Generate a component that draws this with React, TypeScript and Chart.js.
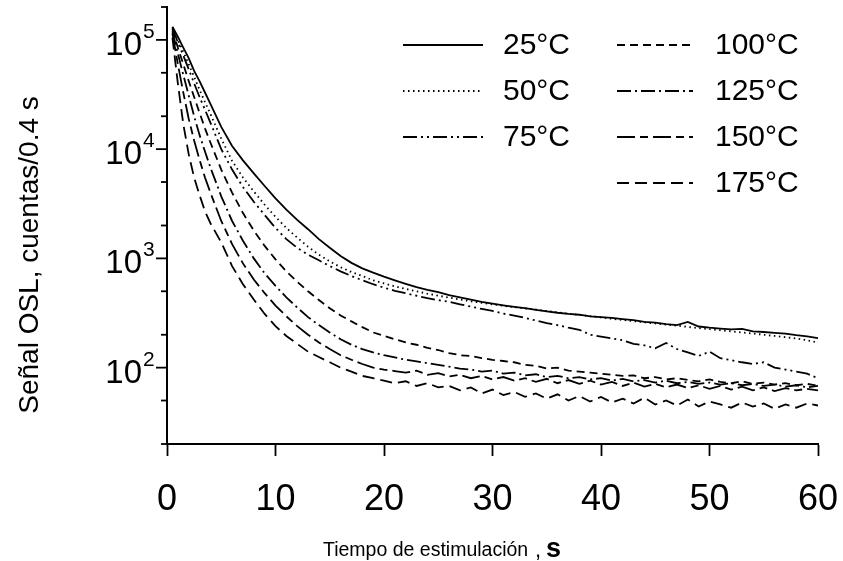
import React, { useEffect, useRef } from 'react';
import { Chart, registerables } from 'chart.js';

Chart.register(...registerables);

// Stimulation time (s)
const TIME = [0.5, 1, 1.5, 2, 2.5, 3, 3.5, 4, 5, 6, 7, 8, 9, 10, 11, 12, 13, 14, 15, 16, 17, 18, 19, 20,
  21, 22, 23, 24, 25, 26, 27, 28, 29, 30, 31, 32, 33, 34, 35, 36, 37, 38, 39, 40,
  41, 42, 43, 44, 45, 46, 47, 48, 49, 50, 51, 52, 53, 54, 55, 56, 57, 58, 59, 60];

const C25 = [132000, 107000, 85000, 68000, 52000, 42000, 33000, 26000, 16000, 10700, 7900, 6000, 4600, 3550, 2800, 2250, 1850, 1500, 1250, 1050, 910, 810, 740, 680,
  630, 585, 545, 515, 490, 460, 440, 420, 400, 385, 372, 360, 350, 338, 328, 318, 310, 305, 295, 290,
  285, 278, 272, 262, 258, 250, 245, 262, 238, 232, 228, 224, 226, 215, 212, 208, 205, 198, 193, 186];

const C50 = [130000, 100000, 78000, 60000, 46000, 35000, 27000, 21000, 12500, 7800, 5500, 4100, 3100, 2400, 1900, 1550, 1280, 1080, 940, 830, 750, 690, 630, 590,
  555, 525, 500, 475, 455, 438, 420, 405, 392, 380, 368, 358, 348, 340, 330, 320, 312, 304, 296, 288,
  280, 273, 266, 260, 254, 248, 242, 236, 230, 225, 220, 215, 210, 205, 200, 195, 190, 185, 178, 170];

const C75 = [128000, 95000, 72000, 54000, 40000, 30000, 23000, 17500, 10000, 6500, 4500, 3300, 2500, 1900, 1500, 1250, 1080, 960, 850, 760, 690, 630, 580, 540,
  505, 480, 455, 432, 415, 400, 380, 362, 345, 330, 312, 300, 285, 270, 255, 245, 232, 222, 200, 192,
  185, 178, 165, 160, 150, 168, 148, 138, 128, 140, 122, 117, 112, 108, 112, 100, 96, 92, 88, 80];

const C100 = [125000, 85000, 60000, 42000, 30000, 21500, 15500, 11500, 6500, 4000, 2600, 1800, 1300, 980, 760, 610, 500, 416, 350, 300, 265, 235, 210, 195,
  182, 170, 162, 152, 145, 136, 130, 128, 122, 118, 115, 112, 106, 104, 98, 100, 94, 92, 90, 88,
  86, 84, 85, 80, 82, 78, 80, 77, 75, 78, 74, 72, 75, 71, 73, 70, 72, 69, 71, 68];

const C125 = [120000, 75000, 48000, 31000, 20000, 13500, 9500, 6800, 3700, 2200, 1450, 1000, 730, 560, 440, 355, 290, 245, 210, 182, 162, 148, 138, 130,
  124, 118, 114, 110, 106, 102, 98, 96, 92, 94, 88, 90, 85, 87, 82, 84, 80, 82, 78, 80,
  76, 79, 75, 77, 73, 76, 72, 74, 71, 73, 70, 72, 69, 71, 68, 70, 67, 69, 66, 68];

const C150 = [115000, 60000, 33000, 19000, 12000, 8000, 5500, 4000, 2200, 1350, 900, 640, 480, 370, 295, 240, 200, 170, 148, 130, 118, 108, 100, 96,
  93, 90, 94, 86, 89, 83, 86, 80, 84, 78, 82, 76, 80, 74, 79, 72, 77, 71, 76, 70,
  74, 68, 73, 67, 71, 66, 70, 65, 69, 64, 68, 63, 67, 62, 66, 61, 65, 62, 64, 62];

const C175 = [105000, 40000, 17000, 9000, 5500, 3800, 2700, 2100, 1400, 850, 580, 420, 310, 240, 195, 165, 140, 125, 112, 100, 92, 84, 80, 76,
  72, 75, 68, 72, 66, 68, 62, 66, 58, 63, 56, 60, 54, 58, 52, 57, 50, 55, 49, 54,
  48, 52, 47, 53, 46, 50, 45, 51, 44, 49, 46, 43, 48, 44, 47, 42, 46, 43, 47, 45];

const SERIES = [C25, C50, C75, C100, C125, C150, C175];
const LABELS = ['25°C', '50°C', '75°C', '100°C', '125°C', '150°C', '175°C'];
const DASHES: number[][] = [[], [1.5, 3.5], [14, 4, 2, 4, 2, 4], [8, 5], [14, 4, 2, 4], [18, 5, 8, 5], [12, 6]];

const X_TICKS = [0, 10, 20, 30, 40, 50, 60];
const Y_MAJOR = [100, 1000, 10000, 100000];
const Y_EXP = ['2', '3', '4', '5'];
const Y_MINOR = [20, 50, 200, 500, 2000, 5000, 20000, 50000, 200000];

const Y_TITLE = 'Señal OSL, cuentas/0.4 s';
const X_TITLE = 'Tiempo de estimulación';
const X_UNIT = 's';

const FONT = '"Liberation Sans", Arial, Helvetica, sans-serif';

const decorPlugin = {
  id: 'decor',
  afterDraw(chart: any) {
    const ctx = chart.ctx as CanvasRenderingContext2D;
    const ys = chart.scales.y;
    const area = chart.chartArea;
    ctx.save();
    ctx.strokeStyle = '#000';
    ctx.fillStyle = '#000';
    ctx.lineWidth = 1.8;
    // y ticks
    Y_MAJOR.forEach((v) => {
      const y = ys.getPixelForValue(v);
      ctx.beginPath();
      ctx.moveTo(area.left - 11, y);
      ctx.lineTo(area.left, y);
      ctx.stroke();
    });
    Y_MINOR.forEach((v) => {
      const y = ys.getPixelForValue(v);
      ctx.beginPath();
      ctx.moveTo(area.left - 6, y);
      ctx.lineTo(area.left, y);
      ctx.stroke();
    });
    // y labels 10^n
    Y_MAJOR.forEach((v, i) => {
      const y = ys.getPixelForValue(v);
      ctx.font = `33px ${FONT}`;
      ctx.textAlign = 'right';
      ctx.textBaseline = 'alphabetic';
      ctx.fillText('10', 142, y + 15);
      ctx.font = `21px ${FONT}`;
      ctx.textAlign = 'left';
      ctx.fillText(Y_EXP[i], 143, y - 2);
    });
    // y title
    ctx.save();
    ctx.translate(38, 255);
    ctx.rotate(-Math.PI / 2);
    ctx.font = `28px ${FONT}`;
    ctx.textAlign = 'center';
    ctx.textBaseline = 'alphabetic';
    ctx.fillText(Y_TITLE, 0, 0);
    ctx.restore();
    // x title
    ctx.font = `19.5px ${FONT}`;
    ctx.textAlign = 'left';
    ctx.textBaseline = 'alphabetic';
    ctx.fillText(X_TITLE, 323, 556);
    ctx.font = `22px ${FONT}`;
    ctx.fillText(',', 535, 557);
    ctx.font = `bold 27px ${FONT}`;
    ctx.fillText(X_UNIT, 546, 557);
    // legend
    chart.data.datasets.forEach((ds: any, i: number) => {
      const col = i < 3 ? 0 : 1;
      const row = i < 3 ? i : i - 3;
      const y = 45 + row * 46;
      const x0 = col === 0 ? 403 : 617;
      const x1 = col === 0 ? 483 : 693;
      const tx = col === 0 ? 503 : 715;
      ctx.save();
      ctx.lineWidth = 1.8;
      ctx.setLineDash(ds.borderDash || []);
      ctx.beginPath();
      ctx.moveTo(x0, y);
      ctx.lineTo(x1, y);
      ctx.stroke();
      ctx.restore();
      ctx.font = `30px ${FONT}`;
      ctx.textAlign = 'left';
      ctx.textBaseline = 'middle';
      ctx.fillText(ds.label, tx, y + 1);
    });
    ctx.restore();
  },
};

export default function App() {
  const ref = useRef<HTMLCanvasElement | null>(null);
  useEffect(() => {
    if (!ref.current) return;
    const datasets = SERIES.map((s, i) => ({
      label: LABELS[i],
      data: TIME.map((t, j) => ({ x: t, y: s[j] })),
      borderColor: '#000',
      borderWidth: 1.8,
      borderDash: DASHES[i],
      pointRadius: 0,
      tension: 0,
      fill: false,
    }));
    const chart = new Chart(ref.current, {
      type: 'line',
      data: { datasets },
      options: {
        animation: false,
        responsive: true,
        maintainAspectRatio: false,
        devicePixelRatio: 1,
        layout: { padding: { top: 7, right: 25, left: 0, bottom: 0 } },
        plugins: { legend: { display: false }, tooltip: { enabled: false } },
        scales: {
          x: {
            type: 'linear',
            min: 0,
            max: 60,
            afterBuildTicks: (s: any) => { s.ticks = X_TICKS.map((v) => ({ value: v })); },
            afterFit: (s: any) => { s.height = 117; s.paddingRight = 0; s.paddingLeft = 0; },
            border: { display: true, color: '#000', width: 2 },
            grid: { display: true, drawOnChartArea: false, drawTicks: true, tickLength: 12, tickWidth: 1.8, tickColor: '#000' },
            ticks: { color: '#000', font: { family: FONT, size: 36 }, padding: 22, maxRotation: 0, autoSkip: false },
          },
          y: {
            type: 'logarithmic',
            min: 20,
            max: 200000,
            afterFit: (s: any) => { s.width = 167; s.paddingTop = 0; s.paddingBottom = 0; },
            border: { display: true, color: '#000', width: 2 },
            grid: { display: false },
            ticks: { display: false },
          },
        },
      },
      plugins: [decorPlugin],
    } as any);
    return () => chart.destroy();
  }, []);
  return (
    <div style={{ position: 'absolute', left: 0, top: 0, width: 843, height: 561, background: '#fff' }}>
      <canvas ref={ref} />
    </div>
  );
}
